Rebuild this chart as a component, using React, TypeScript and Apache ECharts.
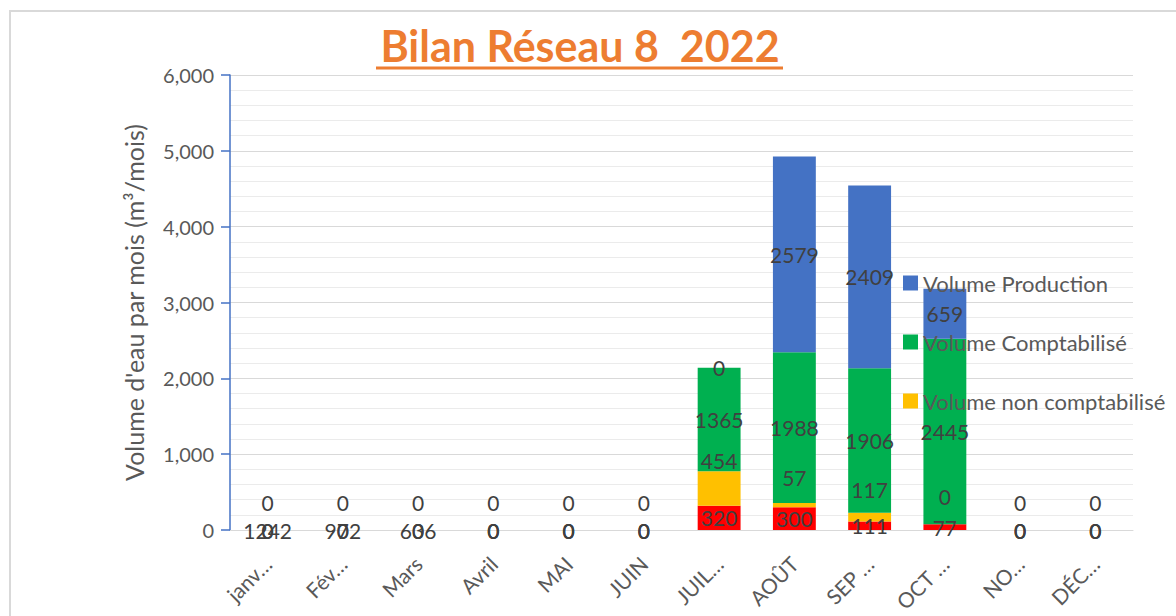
import React, { useEffect, useRef } from "react";
import * as echarts from "echarts";

const months = ["janv…", "Fév…", "Mars", "Avril", "MAI", "JUIN", "JUIL…", "AOÛT", "SEP …", "OCT …", "NO…", "DÉC…"];

// plotted values (stacked from bottom)
const pertes = [0, 0, 0, 0, 0, 0, 320, 300, 111, 77, 0, 0];
const nonComptabilise = [0, 0, 0, 0, 0, 0, 454, 57, 117, 0, 0, 0];
const comptabilise = [0, 0, 0, 0, 0, 0, 1365, 1988, 1906, 2445, 0, 0];
const production = [0, 0, 0, 0, 0, 0, 0, 2579, 2409, 659, 0, 0];

// label texts shown on the bottom (red) segment
const pertesLabels = ["1242", "972", "636", "0", "0", "0", "320", "300", "111", "77", "0", "0"];

const seriesNames = ["Volume pertes", "Volume non comptabilisé", "Volume Comptabilisé", "Volume Production"];
const legendNames = ["Volume Production", "Volume Comptabilisé", "Volume non comptabilisé"];
const yTicks = [0, 1000, 2000, 3000, 4000, 5000, 6000];

const FONT = "Lato, 'Noto Sans', sans-serif";
const TEXT = "#595959";

export default function App() {
  const ref = useRef<HTMLDivElement>(null);
  useEffect(() => {
    if (!ref.current) return;
    const chart = echarts.init(ref.current, null, { renderer: "svg" });
    const baseLabel = {
      show: true,
      position: "inside",
      color: "#404040",
      fontSize: 21,
      fontFamily: FONT,
    };
    chart.setOption({
      animation: false,
      textStyle: { fontFamily: FONT },
      graphic: [
        {
          type: "rect",
          shape: { x: 10, y: 11, width: 1300, height: 700 },
          style: { fill: "none", stroke: "#d9d9d9", lineWidth: 2 },
          silent: true,
        },
        {
          type: "text",
          x: 580,
          y: 45,
          style: {
            text: "Bilan Réseau 8  2022",
            fill: "#ED7D31",
            font: "bold 43px " + FONT,
            textAlign: "center",
            textVerticalAlign: "middle",
          },
        },
        {
          type: "line",
          shape: { x1: 376, y1: 68, x2: 783, y2: 68 },
          style: { stroke: "#ED7D31", lineWidth: 3 },
        },
      ],
      legend: {
        data: legendNames,
        orient: "vertical",
        left: 898,
        top: 267,
        itemWidth: 15,
        itemHeight: 15,
        itemGap: 37,
        icon: "rect",
        textStyle: { color: TEXT, fontSize: 22, fontFamily: FONT },
      },
      grid: { left: 230, right: 43, top: 75, bottom: 86 },
      xAxis: {
        type: "category",
        data: months,
        axisLine: { show: true, lineStyle: { color: "#d9d9d9", width: 1 } },
        axisTick: { show: false },
        axisLabel: {
          interval: 0,
          rotate: 45,
          color: TEXT,
          fontSize: 21,
          fontFamily: FONT,
          margin: 30,
        },
      },
      yAxis: {
        type: "value",
        min: yTicks[0],
        max: yTicks[yTicks.length - 1],
        interval: 1000,
        name: "Volume d'eau par mois (m³/mois)",
        nameLocation: "middle",
        nameGap: 84,
        nameTextStyle: { color: TEXT, fontSize: 25, fontFamily: FONT },
        axisLine: { show: true, lineStyle: { color: "#4472C4", width: 1.5 } },
        axisTick: { show: true, length: 9, lineStyle: { color: "#4472C4", width: 1.5 } },
        axisLabel: {
          color: TEXT,
          fontSize: 20,
          fontFamily: FONT,
          margin: 16,
          formatter: (v: number) => v.toLocaleString("en-US"),
        },
        splitLine: { show: true, lineStyle: { color: "#d9d9d9", width: 1 } },
        minorTick: { show: false, splitNumber: 5 },
        minorSplitLine: { show: true, lineStyle: { color: "#ebebeb", width: 1 } },
      },
      series: [
        {
          name: seriesNames[0],
          type: "bar",
          stack: "v",
          barWidth: "57%",
          data: pertes,
          itemStyle: { color: "#FF0000" },
          label: { ...baseLabel, formatter: (p: any) => pertesLabels[p.dataIndex] },
        },
        {
          name: seriesNames[1],
          type: "bar",
          stack: "v",
          data: nonComptabilise,
          itemStyle: { color: "#FFC000" },
          label: { ...baseLabel, offset: [0, -28] },
        },
        {
          name: seriesNames[2],
          type: "bar",
          stack: "v",
          data: comptabilise,
          itemStyle: { color: "#00B050" },
          label: { ...baseLabel },
        },
        {
          name: seriesNames[3],
          type: "bar",
          stack: "v",
          data: production,
          itemStyle: { color: "#4472C4" },
          label: { ...baseLabel },
        },
      ],
    });
    return () => chart.dispose();
  }, []);
  return (
    <div
      ref={ref}
      style={{ position: "fixed", left: 0, top: 0, width: 1176, height: 616, background: "#fff" }}
    />
  );
}
